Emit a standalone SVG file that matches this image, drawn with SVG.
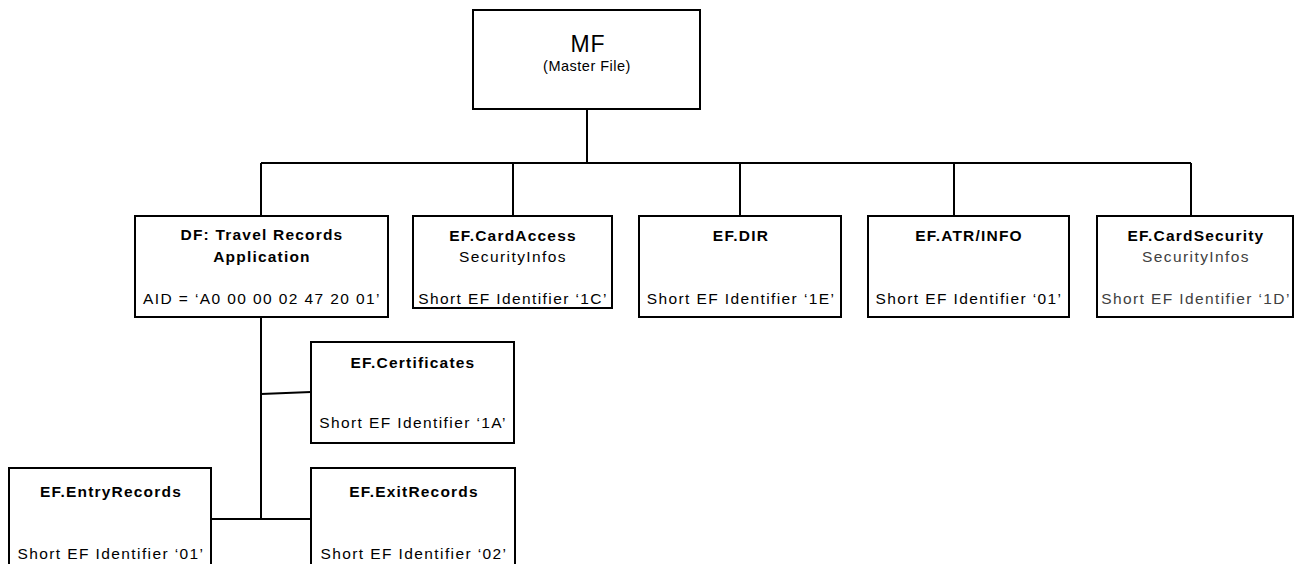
<svg xmlns="http://www.w3.org/2000/svg" width="1301" height="564" viewBox="0 0 1301 564">
<style>
.box{fill:#fff;stroke:#000;stroke-width:2}
.ln{fill:none;stroke:#000;stroke-width:2}
text{font-family:"Liberation Sans",Arial,sans-serif;font-size:15.5px;fill:#000;text-anchor:middle;letter-spacing:1.4px}
.b{font-weight:bold;letter-spacing:1.2px}
.g{fill:#404040}
.mf{font-size:23px;letter-spacing:1px}
.mfs{font-size:14.5px;letter-spacing:0.5px}
</style>
<rect width="1301" height="564" fill="#fff"/>
<g id="connectors">
<path class="ln" d="M587 109V163M261 163H1191M261 163V216M513 163V216M740 163V216M954 163V216M1191 163V216"/>
<path class="ln" d="M261 317V519M261 394L311 392M211 519H311"/>
</g>
<g id="mf">
<rect class="box" x="473" y="10" width="227" height="99"/>
<text class="mf" x="588" y="52">MF</text>
<text class="mfs" x="587" y="71">(Master File)</text>
</g>
<g id="df">
<rect class="box" x="135" y="216" width="253" height="101"/>
<text class="b" x="262" y="240">DF: Travel Records</text>
<text class="b" x="262" y="262">Application</text>
<text x="262" y="304">AID = ‘A0 00 00 02 47 20 01’</text>
</g>
<g id="cardaccess">
<rect class="box" x="413" y="216" width="199" height="92"/>
<text class="b" x="513" y="241">EF.CardAccess</text>
<text x="513" y="262">SecurityInfos</text>
<text x="513" y="304">Short EF Identifier ‘1C’</text>
</g>
<g id="dir">
<rect class="box" x="639" y="216" width="202" height="101"/>
<text class="b" x="741" y="241">EF.DIR</text>
<text x="741" y="304">Short EF Identifier ‘1E’</text>
</g>
<g id="atr">
<rect class="box" x="868" y="216" width="201" height="101"/>
<text class="b" x="969" y="241">EF.ATR/INFO</text>
<text x="969" y="304">Short EF Identifier ‘01’</text>
</g>
<g id="cardsecurity">
<rect class="box" x="1097" y="216" width="196" height="101"/>
<text class="b" x="1196" y="241">EF.CardSecurity</text>
<text class="g" x="1196" y="262">SecurityInfos</text>
<text class="g" x="1196" y="304">Short EF Identifier ‘1D’</text>
</g>
<g id="certificates">
<rect class="box" x="311" y="342" width="203" height="101"/>
<text class="b" x="413" y="368">EF.Certificates</text>
<text x="413" y="428">Short EF Identifier ‘1A’</text>
</g>
<g id="entryrecords">
<rect class="box" x="9" y="468" width="202" height="110"/>
<text class="b" x="111" y="497">EF.EntryRecords</text>
<text x="111" y="559">Short EF Identifier ‘01’</text>
</g>
<g id="exitrecords">
<rect class="box" x="311" y="468" width="204" height="110"/>
<text class="b" x="414" y="497">EF.ExitRecords</text>
<text x="414" y="559">Short EF Identifier ‘02’</text>
</g>
</svg>
